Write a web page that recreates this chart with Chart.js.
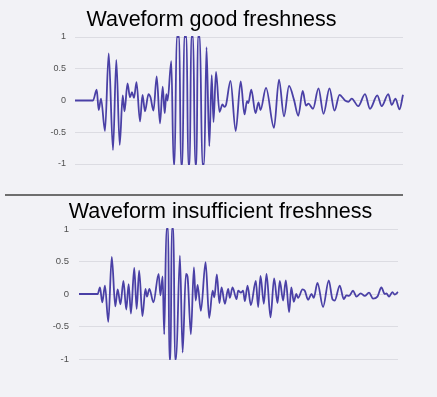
<!DOCTYPE html>
<html>
<head>
<meta charset="utf-8">
<script src="https://cdn.jsdelivr.net/npm/chart.js@4.4.1/dist/chart.umd.min.js"></script>
<style>
  body { margin: 0; background: #f2f2f6; }
  #wrap { position: relative; width: 437px; height: 397px; overflow: hidden; }
  canvas { position: absolute; left: 0; }
  #top { top: 0; }
  #bottom { top: 197px; }
  #sep { position: absolute; left: 5px; top: 194px; width: 398px; height: 2px; background: #6e6e6e; }
</style>
</head>
<body>
<div id="wrap">
  <canvas id="top" width="437" height="190"></canvas>
  <div id="sep"></div>
  <canvas id="bottom" width="437" height="200"></canvas>
</div>
<script>
// sample positions and amplitudes
var goodT = [0, 18, 21.7, 23.7, 26, 30, 33.7, 38, 41.3, 44.7, 47.7, 49.5, 52.5, 55, 57, 59, 61.5, 65,
  67.5, 70, 73.5, 75.5, 78.5, 81.7, 85, 87.7, 89.7, 91.3, 92.6, 96.3, 98.6, 99.6, 101.7, 104.3,
  105.9, 107.5, 109.2, 111.6, 113.2, 114.8, 116.2, 118.2, 120.1, 121.6, 122.8, 124.9, 127.3, 129.2,
  131.5, 134.3, 136.7, 138.5, 141, 144.5, 147.5, 149.3, 151, 155.5, 160.7, 165.7, 169.5, 172, 173.3,
  176.3, 180.5, 183.5, 185.5, 191, 199, 204, 209, 214, 219, 223.3, 227.7, 231, 233.5, 238, 243.5,
  248.5, 254.5, 259.5, 264.5, 270, 273.3, 276.7, 283.3, 290, 295, 302.3, 306.7, 313.3, 316.7,
  320.5, 324.5, 328];
var goodV = [0, 0, 0.17, -0.15, 0.03, -0.48, 0.74, -0.78, 0.64, -0.70, 0.08, -0.17, 0.27, 0.05, 0.13, 0.04, 0.29, -0.33,
  0.09, -0.17, 0.1, 0.05, -0.16, 0.38, -0.36, 0.22, -0.2, 0.1, 0.0, 0.62, -1, -1, 1, 1,
  -1, -1, 1, 1, -1, -1, 1, 1, -1, -1, 1, 1, -1, -1,
  0.84, -0.72, 0.4, -0.34, 0.45, -0.18, -0.06, -0.1, -0.07, 0.31, -0.48, 0.3, -0.22, -0.01, -0.04,
  0.17, -0.2, -0.03, -0.15, 0.2, -0.43, 0.33, -0.25, 0.23, 0.01, -0.24, 0.15, -0.08, -0.05, -0.13, 0.19,
  -0.21, 0.19, -0.16, 0.09, 0.0, -0.02, 0.03, -0.09, 0.1, -0.13, 0.08, -0.09, 0.1, -0.07,
  0.03, -0.14, 0.09];

var poorT = [0, 18.7, 21, 23.3, 26, 29.3, 32.8, 36.3, 38.7, 41.5, 44.5, 47.3, 49.7, 52, 55.3, 57.7, 60.2, 63.5,
  66.5, 68, 70.5, 74.5, 79.7, 81.5, 83.7, 85.3, 87.5, 89.3, 90.4, 91.7, 92.8, 94.6, 96, 97.3,
  101, 103.7, 107, 108.6, 112, 115, 116.8, 118.7, 122, 126.7, 130.3, 133.7, 135.5, 138, 140.5, 142.7,
  146, 149.3, 151, 153.7, 157.7, 159.3, 162, 164.3, 166, 168.7, 172, 177, 179.3, 181.7, 185, 187.7,
  191.7, 195.3, 198.7, 201, 204.3, 207, 210.3, 212.5, 215, 217.5, 219.3, 223.7, 226, 229.3, 232.7,
  235, 238.7, 244.3, 250, 253.7, 256, 261, 265, 267.7, 270.3, 274.3, 277.7, 282, 286, 290.3, 294.3,
  298.7, 302.7, 306, 307.7, 310.3, 313.7, 316, 319.3];
var poorV = [0, 0, 0.1, -0.13, 0.13, -0.43, 0.57, -0.19, 0.07, -0.16, 0.2, -0.24, 0.15, -0.3, 0.4, -0.23, 0.36, -0.34,
  0.08, -0.04, 0.08, -0.13, 0.31, -0.02, 0.27, -0.62, 1, 1, -1, -1, 1, 1, -1, -1,
  0.59, -0.9, 0.31, 0.27, -0.62, 0.41, -0.1, 0.14, -0.26, 0.49, -0.37, 0.05, -0.05, 0.3, -0.14, 0.1,
  -0.15, 0.08, -0.06, 0.1, -0.08, 0.05, 0.02, 0.05, -0.11, 0.13, -0.17, 0.2, -0.2, 0.28, -0.15, 0.31,
  -0.36, 0.24, -0.14, 0.2, -0.1, 0.21, -0.28, 0.1, -0.12, 0.0, -0.06, 0.07, 0.05, -0.09, 0.0,
  -0.06, 0.17, -0.2, 0.21, -0.08, -0.1, 0.13, -0.08, -0.02, -0.03, 0.05, -0.04, 0.01, -0.03, 0.02,
  -0.07, -0.04, 0.1, 0.0, 0.01, -0.04, 0.03, -0.01, 0.03];

var yTicks = [-1, -0.5, 0, 0.5, 1];
var lineColor = '#4a40a6';
var fontFamily = '"Liberation Sans", Arial, sans-serif';

function toPoints(ts, vs) {
  return ts.map(function(t, i){ return { x: t, y: vs[i] }; });
}

function makeChart(id, title, ts, vs, opt) {
  return new Chart(document.getElementById(id), {
    type: 'line',
    data: {
      datasets: [{
        data: toPoints(ts, vs),
        borderColor: lineColor,
        borderWidth: 1.8,
        pointRadius: 0,
        cubicInterpolationMode: 'monotone',
        clip: 4
      }]
    },
    options: {
      responsive: false,
      animation: false,
      devicePixelRatio: 1,
      layout: { padding: opt.padding },
      plugins: {
        legend: { display: false },
        tooltip: { enabled: false },
        title: {
          display: true,
          text: title,
          color: '#000',
          font: { family: fontFamily, size: 21.5, weight: 'normal', lineHeight: 1.2 },
          padding: opt.titlePad
        }
      },
      scales: {
        x: {
          type: 'linear',
          display: false,
          min: 0,
          max: ts[ts.length - 1]
        },
        y: {
          min: -1,
          max: 1,
          afterBuildTicks: function(s){ s.ticks = yTicks.map(function(v){ return { value: v }; }); },
          afterFit: function(s){ s.width = opt.axisWidth; },
          border: { display: false },
          grid: { color: '#dcdce2', lineWidth: 1, drawTicks: false },
          ticks: {
            color: '#505050',
            padding: opt.tickPad,
            font: { family: fontFamily, size: opt.tickSize },
            callback: function(v){ return String(v); }
          }
        }
      }
    }
  });
}

makeChart('top', 'Waveform good freshness', goodT, goodV, {
  padding: { left: 20, right: 34, top: 0, bottom: 26 },
  titlePad: { top: 6.9, bottom: 4.3 },
  axisWidth: 55, tickPad: 9, tickSize: 9
});

makeChart('bottom', 'Waveform insufficient freshness', poorT, poorV, {
  padding: { left: 43, right: 39, top: 0, bottom: 38 },
  titlePad: { top: 2.3, bottom: 3.9 },
  axisWidth: 36, tickPad: 10, tickSize: 9.5
});
</script>
</body>
</html>
